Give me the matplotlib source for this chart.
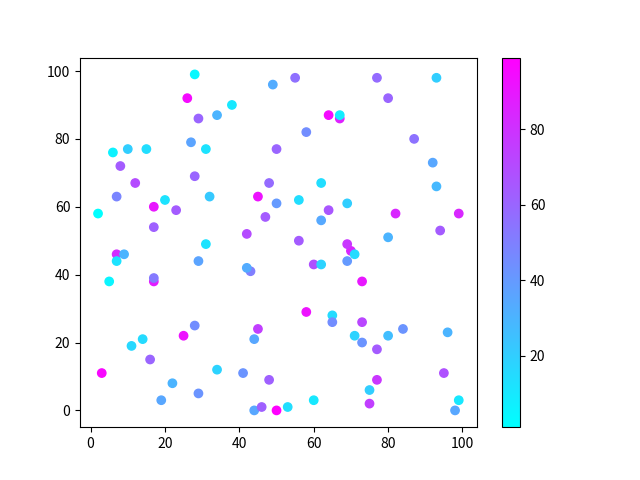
import matplotlib
matplotlib.use("Agg")
import matplotlib.pyplot as plt

plt.rcParams['font.family'] = ['Noto Sans CJK SC', 'DejaVu Sans']

x = [7, 17, 43, 67, 70, 60,
     28, 49, 26, 38, 34, 29, 27, 31, 6, 10, 15, 50, 8, 12, 28, 48, 7, 32, 45, 50,
     2, 17, 20, 23, 47, 17, 42, 31,
     55, 77, 93, 80, 64, 67, 58, 87, 92, 62, 93, 56, 69, 64, 62, 82, 99, 94, 80, 56, 69,
     9, 7, 29, 42, 5, 17, 28, 25, 45, 44, 14, 11, 16, 3, 34, 41, 22, 29, 19, 48, 44, 46, 50,
     71, 69, 62, 73, 58, 65, 65, 73, 71, 73, 80, 84, 96, 77, 95, 77, 75, 75, 60, 53, 99, 98]
y = [46, 38, 41, 86, 47, 43,
     99, 96, 92, 90, 87, 86, 79, 77, 76, 77, 77, 77, 72, 67, 69, 67, 63, 63, 63, 61,
     58, 60, 62, 59, 57, 54, 52, 49,
     98, 98, 98, 92, 87, 87, 82, 80, 73, 67, 66, 62, 61, 59, 56, 58, 58, 53, 51, 50, 49,
     46, 44, 44, 42, 38, 39, 25, 22, 24, 21, 21, 19, 15, 11, 12, 11, 8, 5, 3, 9, 0, 1, 0,
     46, 44, 43, 38, 29, 28, 26, 26, 22, 20, 22, 24, 23, 18, 11, 9, 6, 2, 3, 1, 3, 0]
c = [82, 88, 50, 86, 85, 68,
     4, 33, 95, 10, 30, 60, 36, 12, 6, 20, 14, 60, 64, 70, 60, 58, 48, 22, 92, 40,
     1, 90, 12, 64, 64, 62, 70, 12,
     56, 58, 20, 60, 95, 8, 45, 55, 35, 14, 28, 14, 20, 66, 34, 84, 84, 64, 30, 64, 78,
     30, 12, 36, 33, 5, 52, 45, 92, 75, 35, 15, 16, 60, 96, 18, 42, 30, 42, 35, 62, 35, 62, 99,
     15, 40, 18, 90, 92, 15, 45, 72, 18, 42, 26, 42, 30, 64, 68, 78, 20, 75, 10, 14, 10, 35]

fig, ax = plt.subplots(figsize=(6.4, 4.8), dpi=100)
sc = ax.scatter(x, y, c=c, cmap='cool')
fig.colorbar(sc, ax=ax)
fig.savefig("out.png", dpi=100)
